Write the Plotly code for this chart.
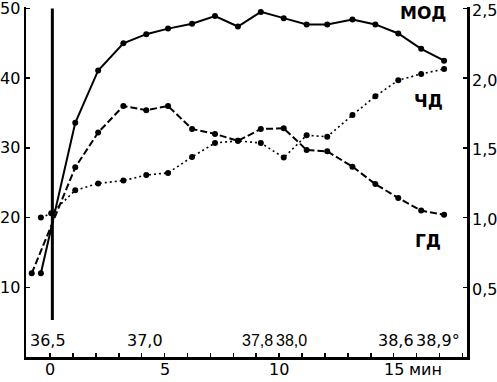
import plotly.graph_objects as go

# ---- data ----
times = [1.1, 2.1, 3.2, 4.2, 5.15, 6.2, 7.2, 8.2, 9.2, 10.2, 11.2, 12.1, 13.2, 14.2, 15.2, 16.2, 17.2]

mod_t0 = [-0.4]
mod_v0 = [12.0]
mod_vals = [33.6, 41.1, 45.0, 46.3, 47.1, 47.8, 48.9, 47.4, 49.5, 48.6, 47.7, 47.7, 48.4, 47.7, 46.4, 44.2, 42.5]

chd_t0 = [-0.4, 0.05]
chd_v0 = [1.00, 1.03]
chd_vals = [1.195, 1.245, 1.265, 1.305, 1.32, 1.435, 1.535, 1.55, 1.535, 1.43, 1.59, 1.58, 1.735, 1.87, 1.985, 2.03, 2.065]

gd_t0 = [-0.8]
gd_v0 = [0.60]
gd_vals = [1.36, 1.61, 1.80, 1.77, 1.80, 1.635, 1.60, 1.55, 1.635, 1.64, 1.485, 1.475, 1.365, 1.24, 1.14, 1.05, 1.02]

start_marker_t = 0.1
start_marker_y = [5.3, 50]

temp_labels = ["36,5", "37,0", "37,8", "38,0", "38,6", "38,9°"]
temp_times = [-0.1, 4.15, 9.05, 10.55, 15.1, 16.95]

x_ticks = list(range(0, 19))
x_label_vals = [0, 5, 10, 15]
x_label_text = ["0", "5", "10", "15"]
left_ticks = [10, 20, 30, 40, 50]
left_ticklabels = ["10", "20", "30", "40", "50"]
right_ticks = [0.5, 1.0, 1.5, 2.0, 2.5]
right_ticklabels = ["0,5", "1,0", "1,5", "2,0", "2,5"]

series_labels = [("МОД", 16.3, 49.4), ("ЧД", 16.5, 36.7), ("ГД", 16.5, 16.7)]

FONT = "DejaVu Sans, Liberation Sans, Arial, sans-serif"
NARROW = "Liberation Sans, Arial, sans-serif"
FS = 16

fig = go.Figure()

fig.add_trace(go.Scatter(
    x=mod_t0 + times, y=mod_v0 + mod_vals, mode="lines+markers",
    line=dict(color="black", width=2), marker=dict(color="black", size=6),
    yaxis="y", showlegend=False, cliponaxis=False, hoverinfo="skip"))

fig.add_trace(go.Scatter(
    x=chd_t0 + times, y=chd_v0 + chd_vals, mode="lines+markers",
    line=dict(color="black", width=1.6, dash="2px,3px"), marker=dict(color="black", size=6),
    yaxis="y2", showlegend=False, cliponaxis=False, hoverinfo="skip"))

fig.add_trace(go.Scatter(
    x=gd_t0 + times, y=gd_v0 + gd_vals, mode="lines+markers",
    line=dict(color="black", width=2, dash="7px,3px"), marker=dict(color="black", size=6),
    yaxis="y2", showlegend=False, cliponaxis=False, hoverinfo="skip"))

fig.add_shape(type="line", xref="x", yref="y",
              x0=start_marker_t, x1=start_marker_t,
              y0=start_marker_y[0], y1=start_marker_y[1],
              line=dict(color="black", width=3))

def label(**kw):
    base = dict(showarrow=False, font=dict(family=FONT, size=FS, color="black"))
    base.update(kw)
    fig.add_annotation(**base)

# temperature labels
for txt, t in zip(temp_labels, temp_times):
    fam = NARROW if txt in ("37,8", "38,0") else FONT
    label(x=t, y=2.3, xref="x", yref="y", text=txt, xanchor="center", yanchor="middle",
          font=dict(family=fam, size=FS, color="black"))

# series names
for txt, t, v in series_labels:
    label(x=t, y=v, xref="x", yref="y", text="<b>" + txt + "</b>",
          font=dict(family=FONT, size=17, color="black"), xanchor="center", yanchor="middle")

# x tick labels
for v, txt in zip(x_label_vals, x_label_text):
    label(x=v, y=-0.037, xref="x", yref="paper", text=txt, xanchor="center", yanchor="middle")
label(x=15.6, y=-0.037, xref="x", yref="paper", text="мин", xanchor="left", yanchor="middle")

# left tick labels
for v, txt in zip(left_ticks, left_ticklabels):
    label(x=-0.009, y=v, xref="paper", yref="y", text=txt, xanchor="right", yanchor="middle")

# right tick labels
for v, txt in zip(right_ticks, right_ticklabels):
    label(x=1.006, y=v, xref="paper", yref="y2", text=txt, xanchor="left", yanchor="middle",
          yshift=-2)

fig.update_layout(
    width=497, height=382,
    margin=dict(l=26, r=30, t=7, b=25, autoexpand=False),
    paper_bgcolor="white", plot_bgcolor="white",
    font=dict(family=FONT, size=FS, color="black"),
    hovermode=False,
    xaxis=dict(range=[-1.05, 18.2], tickvals=x_ticks, showticklabels=False,
               ticks="inside", ticklen=4, tickwidth=1.5, tickcolor="black",
               showline=True, linecolor="black", linewidth=2.5,
               showgrid=False, zeroline=False, automargin=False),
    yaxis=dict(range=[0, 50.2], tickvals=left_ticks, showticklabels=False,
               ticks="inside", ticklen=4, tickwidth=1.5, tickcolor="black",
               showline=True, linecolor="black", linewidth=2.5,
               showgrid=False, zeroline=False, automargin=False),
    yaxis2=dict(range=[0, 2.51], overlaying="y", side="right",
                tickvals=right_ticks, showticklabels=False,
                ticks="inside", ticklen=4, tickwidth=1.5, tickcolor="black",
                showline=True, linecolor="black", linewidth=2.5,
                showgrid=False, zeroline=False, automargin=False),
)

fig.write_html("out.html", config={"displayModeBar": False, "staticPlot": True},
               post_script="document.body.style.margin='0';document.body.style.overflow='hidden';")
